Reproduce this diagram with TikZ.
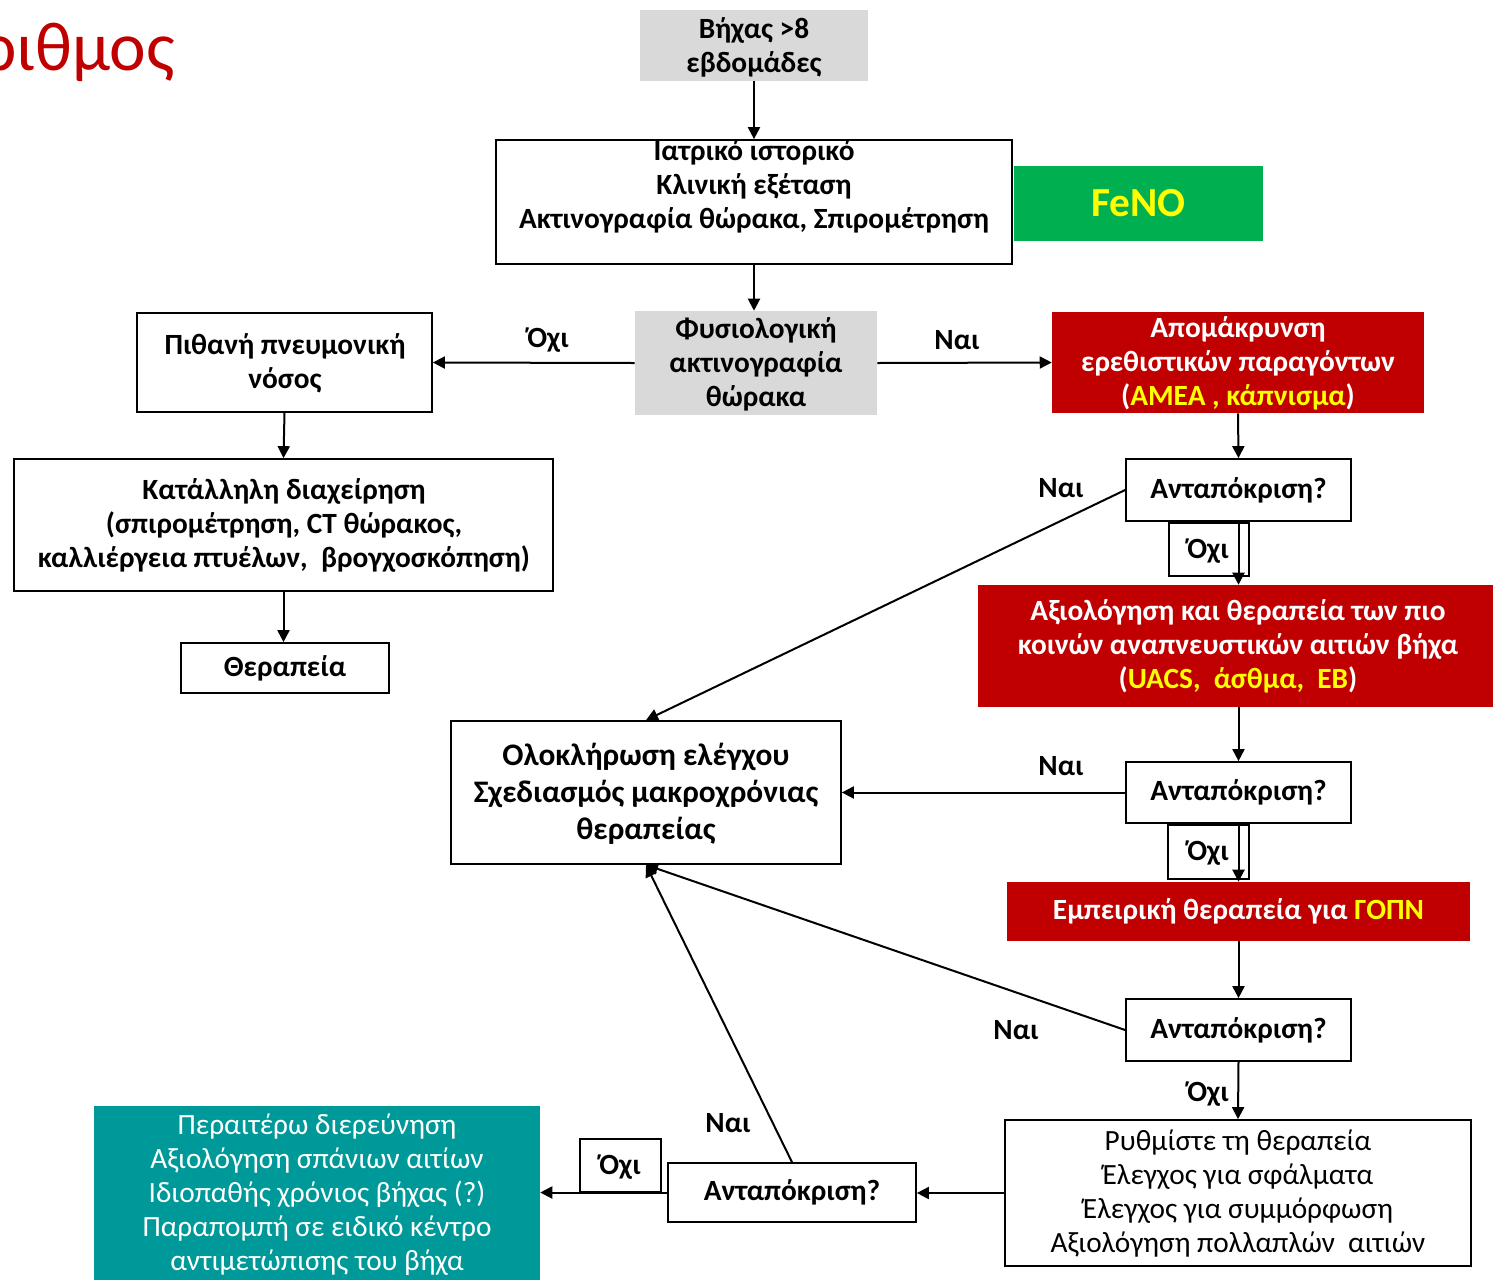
\documentclass[tikz,border=0pt]{standalone}
\usepackage{fontspec}
\setmainfont{Carlito}
\usetikzlibrary{arrows.meta,fit,calc}
\definecolor{cred}{HTML}{C00000}
\definecolor{cgray}{HTML}{D9D9D9}
\definecolor{cgreen}{HTML}{00B050}
\definecolor{cteal}{HTML}{009999}
\definecolor{cyel}{HTML}{FFFF00}
\tikzset{
  bx/.style={draw=black, line width=1.3pt, inner sep=0pt},
  fillbx/.style={inner sep=0pt, draw=none},
  txt/.style={align=center, inner sep=0pt, font=\fontsize{22}{25.5}\selectfont\bfseries},
  rtxt/.style={align=center, inner sep=0pt, font=\fontsize{22}{25.5}\selectfont},
  bigtxt/.style={align=center, inner sep=0pt, font=\fontsize{23.5}{27.75}\selectfont\bfseries},
  wtxt/.style={txt, text=white},
  arr/.style={line width=1.5pt, -{Triangle[length=9pt,width=9pt]}},
}
\begin{document}
\begin{tikzpicture}[x=0.75pt,y=-0.75pt]
\clip (0,0) rectangle (1493,1279);
\useasboundingbox (0,0) rectangle (1493,1279);
% title
\node[anchor=base east, inner sep=0pt, text=cred, font=\fontsize{52}{60}\selectfont] (title) at (175,70) {ριθμος};
% boxes
\node[fillbx, fill=cgray, fit={(640,10)(868,81)}] (bix) {};
\node[txt] (bixT) at (754,47) {Βήχας >8\\εβδομάδες};
\node[bx, fit={(496,140)(1012,264)}] (ist) {};
\node[txt] (istT) at (754,186) {Ιατρικό ιστορικό\\Κλινική εξέταση\\Ακτινογραφία θώρακα, Σπιρομέτρηση};
\node[fillbx, fill=cgreen, fit={(1014,166)(1263,241)}] (feno) {};
\node[text=cyel, inner sep=0pt, font=\fontsize{31}{36}\selectfont\bfseries] (fenoT) at (feno) {FeNO};
\node[fillbx, fill=cgray, fit={(635,311)(877,415)}] (phys) {};
\node[txt] (physT) at (756,364) {Φυσιολογική\\ακτινογραφία\\θώρακα};
\node[bx, fit={(137,313)(432,412)}] (pith) {};
\node[txt] (pithT) at (285,363) {Πιθανή πνευμονική\\νόσος};
\node[fillbx, fill=cred, fit={(1052,312)(1424,413)}] (apom) {};
\node[wtxt] (apomT) at (1238,363) {Απομάκρυνση\\ερεθιστικών παραγόντων\\({\color{cyel}ΑΜΕΑ , κάπνισμα})};
\node[bx, fit={(14,459)(553,591)}] (kat) {};
\node[txt] (katT) at (284,525) {Κατάλληλη διαχείρηση\\(σπιρομέτρηση, CT θώρακος,\\καλλιέργεια πτυέλων,\ \ βρογχοσκόπηση)};
\node[bx, fit={(181,643)(389,693)}] (ther) {};
\node[txt] (therT) at (ther) {Θεραπεία};
\node[bx, fit={(1126,459)(1351,521)}] (ant1) {};
\node[txt] (ant1T) at (ant1) {Ανταπόκριση?};
\node[bx, fit={(1169,523)(1249,576)}] (ob1) {};
\node[txt] (ob1T) at (1208,551) {Όχι};
\node[fillbx, fill=cred, fit={(978,585)(1498,707)}] (axi) {};
\node[wtxt] (axiT) at (1238,646) {Αξιολόγηση και θεραπεία των πιο\\κοινών αναπνευστικών αιτιών βήχα\\({\color{cyel}UACS,\ \ άσθμα,\ \ EB})};
\node[bx, fit={(451,721)(841,864)}] (olo) {};
\node[bigtxt] (oloT) at (646,794) {Ολοκλήρωση ελέγχου\\Σχεδιασμός μακροχρόνιας\\θεραπείας};
\node[bx, fit={(1126,762)(1351,823)}] (ant2) {};
\node[txt] (ant2T) at (ant2) {Ανταπόκριση?};
\node[bx, fit={(1168,825)(1249,879)}] (ob2) {};
\node[txt] (ob2T) at (1208,853) {Όχι};
\node[fillbx, fill=cred, fit={(1007,882)(1470,941)}] (emp) {};
\node[wtxt] (empT) at (emp) {Εμπειρική θεραπεία για {\color{cyel}ΓΟΠΝ}};
\node[bx, fit={(1126,999)(1351,1061)}] (ant3) {};
\node[txt] (ant3T) at (ant3) {Ανταπόκριση?};
\node[bx, fit={(1005,1120)(1471,1266)}] (ryth) {};
\node[rtxt] (rythT) at (1238,1194) {Ρυθμίστε τη θεραπεία\\Έλεγχος για σφάλματα\\Έλεγχος για συμμόρφωση\\Αξιολόγηση πολλαπλών\ \ αιτιών};
\node[bx, fit={(668,1163)(916,1222)}] (ant4) {};
\node[txt] (ant4T) at (ant4) {Ανταπόκριση?};
\node[bx, fit={(580,1139)(661,1192)}] (ob4) {};
\node[txt] (ob4T) at (620,1167) {Όχι};
\node[fillbx, fill=cteal, fit={(94,1106)(540,1283)}] (teal) {};
\node[rtxt, text=white] (tealT) at (317,1195) {Περαιτέρω διερεύνηση\\Αξιολόγηση σπάνιων αιτίων\\Ιδιοπαθής χρόνιος βήχας (?)\\Παραπομπή σε ειδικό κέντρο\\αντιμετώπισης του βήχα};
% labels
\node[txt] (l1) at (548,340) {Όχι};
\node[txt] (l2) at (957,340) {Ναι};
\node[txt] (l3) at (1061,488) {Ναι};
\node[txt] (l4) at (1061,766) {Ναι};
\node[txt] (l5) at (1016,1030) {Ναι};
\node[txt] (l6) at (1208,1094) {Όχι};
\node[txt] (l7) at (728,1123) {Ναι};
% connectors
\draw[arr] (bix.south) -- (ist.north);
\draw[arr] (ist.south) -- (ist.south |- phys.north);
\draw[arr] (phys.west) -- (pith.east);
\draw[arr] (phys.east) -- (apom.west);
\draw[arr] (apom.south) -- (ant1.north);
\draw[arr] (ant1.south) -- (ant1.south |- axi.north);
\draw[arr] (ant1.west) -- (olo.north);
\draw[arr] (pith.south) -- (kat.north);
\draw[arr] (kat.south) -- (kat.south |- ther.north);
\draw[arr] (ant2.north |- axi.south) -- (ant2.north);
\draw[arr] (ant2.west) -- (ant2.west -| olo.east);
\draw[arr] (ant2.south) -- (ant2.south |- emp.north);
\draw[arr] (ant3.north |- emp.south) -- (ant3.north);
\draw[arr] (ant3.west) -- (olo.south);
\draw[arr] (ant3.south) -- (ryth.north);
\draw[arr] (ryth.west) -- (ryth.west -| ant4.east);
\draw[arr] (ant4.north) -- (olo.south);
\draw[arr] (ant4.west) -- (ant4.west -| teal.east);
\end{tikzpicture}
\end{document}
